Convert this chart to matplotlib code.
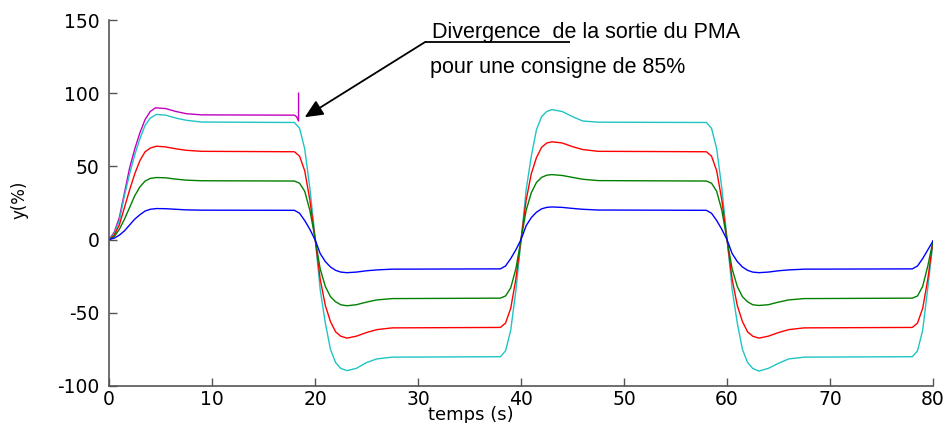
import matplotlib
matplotlib.use("Agg")
import matplotlib.pyplot as plt

plt.rcParams["axes.unicode_minus"] = False

# time base shared by the four closed-loop responses (s)
t = [0, 0.5, 1, 1.5, 2, 2.5, 3, 3.5, 4, 4.6, 5.5, 6.5, 7.5, 9, 18,
     18.5, 19, 19.5, 20, 20.5, 21, 21.5, 22, 22.5, 23.1, 24, 25, 26, 27.5, 38,
     38.5, 39, 39.5, 40, 40.5, 41, 41.5, 42, 42.5, 43, 44, 45, 46, 47.5, 58,
     58.5, 59, 59.5, 60, 60.5, 61, 61.5, 62, 62.5, 63.1, 64, 65, 66, 67.5, 78,
     78.5, 79, 79.5, 80]

# output y (%) for set-points of 20, 40, 60 and 80 %
y20 = [0, 1, 3, 6, 10, 14, 17, 19.5, 20.7, 21.2, 21.1, 20.7, 20.3, 20.1, 20,
       18, 13, 7, 0, -9.5, -15, -18.7, -21, -22.2, -22.6, -22.2, -21.3, -20.7, -20.2, -20,
       -18, -13, -7, 0, 9.5, 15, 18.7, 21, 22, 22.3, 22, 21.3, 20.7, 20.2, 20,
       18, 13, 7, 0, -9.5, -15, -18.7, -21, -22.2, -22.6, -22.2, -21.3, -20.7, -20.2, -20,
       -18, -13, -7, -1]
y40 = [0, 2, 7, 14, 22, 30, 36, 40, 41.8, 42.4, 42.2, 41.3, 40.6, 40.2, 40,
       38.5, 33, 20, 1, -20, -32, -39, -42.5, -44.5, -45.2, -44.5, -42.7, -41.2, -40.3, -40,
       -38.5, -33, -20, 0, 20, 32, 39, 42.5, 44, 44.4, 43.8, 42.5, 41.2, 40.3, 40,
       38.5, 33, 20, 0, -20, -32, -39, -42.5, -44.5, -45, -44.5, -42.7, -41.2, -40.3, -40,
       -38.5, -32, -18, -1]
y60 = [0, 3, 10, 22, 34, 45, 54, 60, 62.5, 63.8, 63.3, 62, 61, 60.3, 60,
       57, 47, 27, 1, -27, -45, -56, -63, -66, -67.3, -66, -63.5, -61.5, -60.3, -60,
       -57, -47, -27, 0, 27, 45, 56, 63, 66, 66.8, 66, 63.5, 61.5, 60.3, 60,
       57, 47, 27, 0, -27, -45, -56, -63, -66, -67.3, -66, -63.5, -61.5, -60.3, -60,
       -57, -47, -27, -1]
y80 = [0, 4, 13, 30, 45, 58, 69, 78, 83, 85.5, 85, 83, 81.5, 80.3, 80,
       76, 62, 35, 2, -34, -57, -75, -84, -88, -89.5, -88, -84, -81.5, -80.3, -80,
       -76, -62, -35, -1, 34, 57, 75, 84, 87.5, 88.8, 87.5, 84, 81, 80.2, 80,
       76, 62, 35, 1, -34, -57, -75, -84, -88, -89.8, -88, -84.5, -81.5, -80.3, -80,
       -76, -62, -33, -2]

# 85 % set-point: the PMA output diverges shortly before t = 18.4 s
t85 = [0, 0.5, 1, 1.5, 2, 2.5, 3, 3.5, 4, 4.5, 5.5, 6.5, 7.5, 9, 18, 18.2, 18.4, 18.4]
y85 = [0, 5, 15, 32, 49, 62, 73, 82, 87.5, 90, 89.5, 87.5, 86, 85.2, 85, 84, 81, 100]

x_ticks = [0, 10, 20, 30, 40, 50, 60, 70, 80]
y_ticks = [-100, -50, 0, 50, 100, 150]

fig = plt.figure(figsize=(9.49, 4.23), dpi=100)
ax = fig.add_axes([0.1149, 0.0875, 0.8682, 0.8652])

ax.plot(t85, y85, color="#c000c0", lw=1.0)
ax.plot(t, y80, color="#20c4c4", lw=1.0)
ax.plot(t, y60, color="#ff0000", lw=1.0)
ax.plot(t, y40, color="#008000", lw=1.0)
ax.plot(t, y20, color="#0000ff", lw=1.0)

ax.set_xlim(0, 80)
ax.set_ylim(-100, 150)
ax.set_xticks(x_ticks)
ax.set_yticks(y_ticks)

for side in ("top", "right"):
    ax.spines[side].set_visible(False)
for side in ("left", "bottom"):
    ax.spines[side].set_color("#555555")
    ax.spines[side].set_linewidth(1.2)

ax.tick_params(direction="in", length=6, width=1.0, color="#555555",
               labelsize=13.5)
ax.tick_params(axis="y", pad=7)
ax.tick_params(axis="x", pad=3)
for lab in ax.get_xticklabels() + ax.get_yticklabels():
    lab.set_family("DejaVu Sans")

ax.set_xlabel("temps (s)", fontsize=13)
ax.xaxis.set_label_coords(0.439, -0.055)
ax.set_ylabel("y(%)", fontsize=12)
ax.yaxis.set_label_coords(-0.098, 0.51)

# annotation: underline + arrow pointing at the divergence
txt_font = dict(family="Liberation Sans", fontsize=15.5, color="black")
ax.text(31.4, 137.7, "Divergence  de la sortie du PMA", va="baseline", **txt_font)
ax.text(31.2, 113.5, "pour une consigne de 85%", va="baseline", **txt_font)
ax.plot([30.7, 44.8], [135, 135], color="black", lw=1.3, solid_capstyle="butt")
ax.annotate("", xy=(19.0, 83.6), xytext=(30.7, 135),
            arrowprops=dict(arrowstyle="-|>,head_length=0.55,head_width=0.25",
                            mutation_scale=20, color="black", lw=1.3,
                            shrinkA=0, shrinkB=0))

fig.savefig("out.png", dpi=100)
